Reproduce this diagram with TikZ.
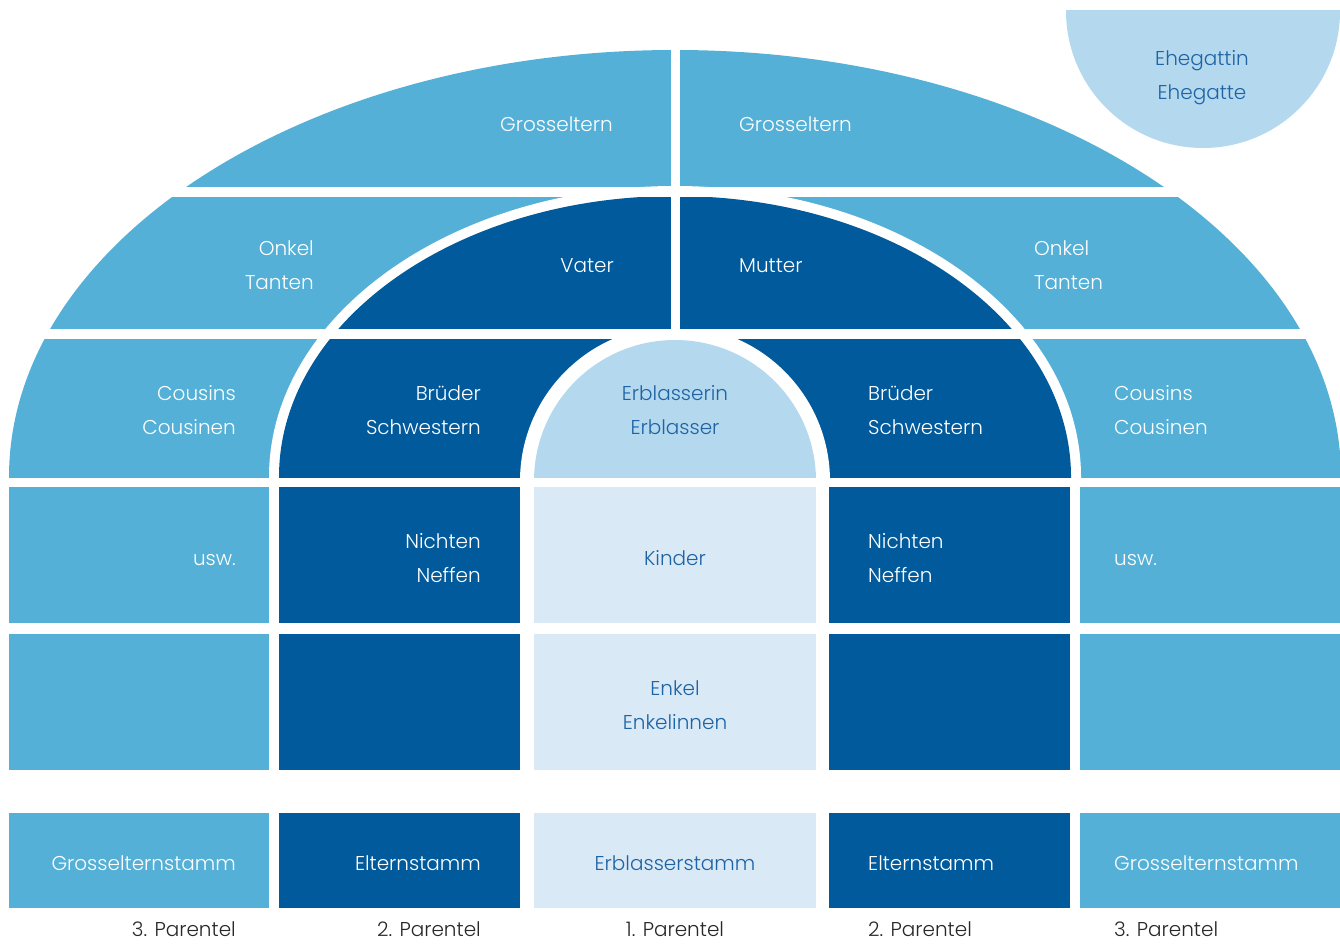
\documentclass[tikz,border=0pt]{standalone}
\usepackage{fontspec}
\setmainfont{Poppins Light}
\definecolor{lb}{RGB}{84,176,214}
\definecolor{db}{RGB}{0,90,155}
\definecolor{eb}{RGB}{180,216,237}
\definecolor{pb}{RGB}{217,233,246}
\definecolor{tb}{RGB}{30,100,165}
\definecolor{tg}{RGB}{40,40,40}
\newcommand\fsz{\fontsize{20}{24}\selectfont}
\begin{document}
\begin{tikzpicture}[x=1pt,y=-1pt,
  txt/.style={inner sep=0pt,font=\fsz,text=white},
  ra/.style={txt,anchor=base east},
  la/.style={txt,anchor=base west},
  ca/.style={txt,anchor=base},
  dk/.style={text=tb},
  gy/.style={text=tg}]
\useasboundingbox (0,0) rectangle (1340,944);
% arch
\begin{scope}
  \clip (0,0) rectangle (1340,477);
  \fill[lb] (675,477) ellipse [x radius=666pt, y radius=427pt];
  \fill[white] (675,477) ellipse [x radius=406pt, y radius=291pt];
  \fill[db] (675,477) ellipse [x radius=396pt, y radius=281pt];
\end{scope}
\begin{scope}
  \clip (0,329) rectangle (1340,477);
  \fill[white] (675,481) circle [radius=155pt];
\end{scope}
\begin{scope}
  \clip (0,339) rectangle (1340,477);
  \fill[eb] (675,481) circle [radius=141pt];
\end{scope}
% white gaps
\fill[white] (0,187) rectangle (1340,197);
\fill[white] (0,329) rectangle (1340,339);
\fill[white] (671,0) rectangle (680,339);
% rectangles
\foreach \ya/\yb in {487/623, 634/770, 813/908}{
  \fill[lb] (9,\ya) rectangle (269,\yb);
  \fill[db] (279,\ya) rectangle (520,\yb);
  \fill[pb] (534,\ya) rectangle (816,\yb);
  \fill[db] (829,\ya) rectangle (1070,\yb);
  \fill[lb] (1080,\ya) rectangle (1340,\yb);
}
% spouse
\begin{scope}
  \clip (1040,11) rectangle (1340,160);
  \fill[eb] (1203,11) circle [radius=137pt];
\end{scope}
% labels
\node[ca,dk] (eh1) at (1202,66) {Ehegattin};
\node[ca,dk] (eh2) at (1202,100) {Ehegatte};
\node[ra] (gl) at (613,132) {Grosseltern};
\node[la] (gr) at (739,132) {Grosseltern};
\node[ra] (onl) at (314,255) {Onkel};
\node[ra] (tal) at (314,289) {Tanten};
\node[ra] (va) at (614,272) {Vater};
\node[la] (mu) at (739,272) {Mutter};
\node[la] (onr) at (1034,255) {Onkel};
\node[la] (tar) at (1034,289) {Tanten};
\node[ra] (col) at (236,400) {Cousins};
\node[ra] (cnl) at (236,434) {Cousinen};
\node[ra] (brl) at (481,400) {Brüder};
\node[ra] (swl) at (481,434) {Schwestern};
\node[ca,dk] (eri) at (675,400) {Erblasserin};
\node[ca,dk] (er) at (675,434) {Erblasser};
\node[la] (brr) at (868,400) {Brüder};
\node[la] (swr) at (868,434) {Schwestern};
\node[la] (cor) at (1114,400) {Cousins};
\node[la] (cnr) at (1114,434) {Cousinen};
\node[ra] (uswl) at (236,565) {usw.};
\node[ra] (nil) at (481,548) {Nichten};
\node[ra] (nel) at (481,582) {Neffen};
\node[ca,dk] (ki) at (675,565) {Kinder};
\node[la] (nir) at (868,548) {Nichten};
\node[la] (ner) at (868,582) {Neffen};
\node[la] (uswr) at (1114,565) {usw.};
\node[ca,dk] (en) at (675,695) {Enkel};
\node[ca,dk] (eni) at (675,729) {Enkelinnen};
\node[ra] (gsl) at (236,870) {Grosselternstamm};
\node[ra] (esl) at (481,870) {Elternstamm};
\node[ca,dk] (ebs) at (675,870) {Erblasserstamm};
\node[la] (esr) at (868,870) {Elternstamm};
\node[la] (gsr) at (1114,870) {Grosselternstamm};
\node[ra,gy] (p3l) at (236,936) {3. Parentel};
\node[ra,gy] (p2l) at (481,936) {2. Parentel};
\node[ca,gy] (p1) at (675,936) {1. Parentel};
\node[la,gy] (p2r) at (868,936) {2. Parentel};
\node[la,gy] (p3r) at (1114,936) {3. Parentel};
\end{tikzpicture}
\end{document}
